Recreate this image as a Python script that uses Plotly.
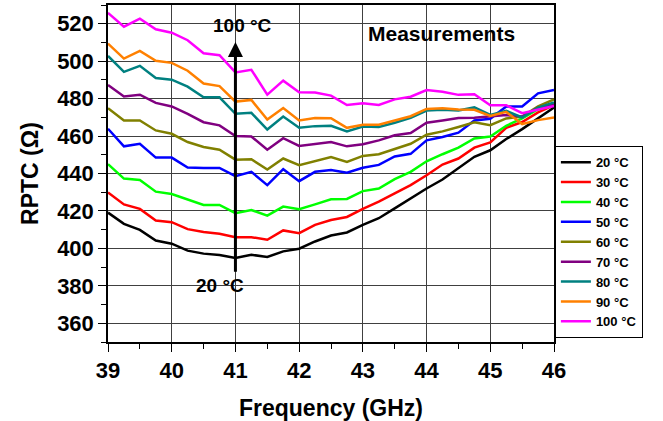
import plotly.graph_objects as go

freq = [39 + 0.25 * i for i in range(29)]

labels = ["20 °C", "30 °C", "40 °C", "50 °C", "60 °C", "70 °C", "80 °C", "90 °C", "100 °C"]
colors = ["#000000", "#FF0000", "#00FF00", "#0000FF", "#808000", "#800080", "#008080", "#FF8000", "#FF00FF"]

r20 = [419.1, 413.1, 409.9, 404.2, 402.5, 398.8, 397.2, 396.5, 394.9, 396.6, 395.4, 398.4, 399.8, 403.7, 406.9,
       408.5, 412.6, 416.1, 421.4, 426.7, 432.0, 436.8, 442.7, 448.9, 452.4, 458.4, 463.7, 469.4, 475.2]
r30 = [429.9, 423.5, 421.1, 414.9, 414.0, 410.3, 408.7, 407.8, 406.0, 406.0, 404.6, 409.6, 408.1, 412.6, 415.2,
       416.8, 421.1, 425.0, 429.4, 433.8, 439.1, 444.8, 448.0, 453.8, 456.6, 464.4, 467.5, 472.6, 476.5]
r40 = [445.0, 437.3, 436.5, 430.3, 429.0, 426.2, 423.2, 423.2, 418.8, 420.5, 417.5, 422.3, 420.9, 423.5, 426.2,
       426.4, 430.6, 432.0, 437.0, 440.9, 446.5, 450.3, 453.8, 458.7, 459.8, 465.5, 469.4, 474.3, 476.5]
r50 = [463.9, 454.5, 455.9, 448.5, 448.5, 443.2, 443.0, 443.0, 438.6, 440.9, 433.8, 442.3, 435.9, 440.9, 441.8,
       440.4, 443.1, 444.6, 449.1, 450.5, 457.7, 459.5, 461.8, 468.3, 469.2, 475.8, 475.8, 482.8, 484.6]
r60 = [474.9, 468.3, 468.3, 463.0, 461.2, 456.8, 454.2, 452.7, 447.4, 447.6, 442.1, 448.0, 444.4, 446.7, 448.8,
       446.2, 449.4, 450.3, 452.9, 455.9, 460.7, 462.5, 464.8, 467.3, 465.8, 469.4, 470.4, 475.8, 479.6]
r70 = [487.3, 481.1, 482.1, 477.7, 475.8, 471.9, 467.4, 465.7, 460.0, 459.8, 452.7, 458.9, 454.7, 455.9, 456.8,
       454.5, 455.6, 457.7, 460.4, 461.6, 467.1, 468.3, 469.6, 469.8, 470.3, 471.2, 470.4, 475.2, 477.0]
r80 = [502.8, 494.3, 497.5, 491.0, 490.1, 486.4, 480.7, 480.7, 471.9, 472.4, 463.5, 470.4, 464.4, 465.3, 465.5,
       462.5, 465.1, 464.8, 467.1, 469.7, 473.6, 474.0, 473.6, 475.3, 471.3, 473.5, 469.9, 475.2, 477.9]
r90 = [509.4, 501.4, 505.5, 500.2, 499.1, 494.9, 488.1, 486.7, 478.4, 479.3, 468.8, 475.0, 468.3, 469.7, 469.5,
       464.4, 466.0, 466.0, 468.3, 470.6, 474.5, 474.9, 474.2, 474.0, 470.8, 472.9, 466.4, 468.5, 469.9]
r100 = [525.8, 518.4, 522.7, 517.0, 515.2, 511.2, 504.2, 503.2, 494.0, 495.4, 482.1, 489.6, 483.4, 483.2, 481.6,
        476.6, 477.5, 476.6, 479.6, 481.0, 484.6, 483.7, 482.0, 482.3, 476.5, 476.5, 472.2, 474.3, 476.1]

series = [r20, r30, r40, r50, r60, r70, r80, r90, r100]

x_ticks = [39, 40, 41, 42, 43, 44, 45, 46]
y_ticks = [360, 380, 400, 420, 440, 460, 480, 500, 520]

FONT = "Liberation Sans"

fig = go.Figure()
for lab, col, vals in zip(labels, colors, series):
    fig.add_trace(go.Scatter(x=freq, y=vals, mode="lines", name=lab,
                             line=dict(color=col, width=2.5)))

axis_common = dict(
    showline=True, linecolor="black", linewidth=1.5, mirror=True,
    showgrid=True, gridcolor="#404040", gridwidth=1,
    ticks="outside", ticklen=8, tickwidth=1.2, tickcolor="black",
    tickfont=dict(family=FONT, size=22, color="black", weight="bold"),
    zeroline=False, automargin=False,
)

fig.update_xaxes(
    range=[39, 46], tickvals=x_ticks,
    minor=dict(dtick=0.5, ticks="outside", ticklen=5, tickcolor="black", showgrid=False),
    title=dict(text="Frequency (GHz)", font=dict(family=FONT, size=23, color="black", weight="bold"), standoff=19),
    **axis_common,
)
fig.update_yaxes(
    range=[350, 530], tickvals=y_ticks,
    minor=dict(dtick=10, ticks="outside", ticklen=5, tickcolor="black", showgrid=False),
    title=dict(text="RPTC (Ω)", font=dict(family=FONT, size=23, color="black", weight="bold"), standoff=12),
    **axis_common,
)

fig.add_annotation(x=41, y=510.2, ax=41, ay=386.7, xref="x", yref="y", axref="x", ayref="y",
                   showarrow=True, arrowhead=2, arrowsize=1, arrowwidth=3, arrowcolor="black", text="")
fig.add_annotation(x=41.11, y=519.1, xref="x", yref="y", text="100 °C", showarrow=False,
                   font=dict(family=FONT, size=19, color="black", weight="bold"))
fig.add_annotation(x=40.755, y=380.4, xref="x", yref="y", text="20 °C", showarrow=False,
                   font=dict(family=FONT, size=19, color="black", weight="bold"))
fig.add_annotation(x=44.24, y=514.8, xref="x", yref="y", text="Measurements", showarrow=False,
                   font=dict(family=FONT, size=21, color="black", weight="bold"))

fig.update_layout(
    width=663, height=421,
    margin=dict(l=108, r=109, t=5, b=79, autoexpand=False),
    paper_bgcolor="white", plot_bgcolor="white",
    font=dict(family=FONT, color="black"),
    legend=dict(x=1.002, y=0.581, xanchor="left", yanchor="top",
                bordercolor="black", borderwidth=1, bgcolor="white",
                font=dict(family=FONT, size=13, color="black", weight="bold"),
                tracegroupgap=0, itemwidth=30),
    showlegend=True,
)

fig.write_html("out.html", config={"displayModeBar": False},
               post_script="document.body.style.margin='0';")
